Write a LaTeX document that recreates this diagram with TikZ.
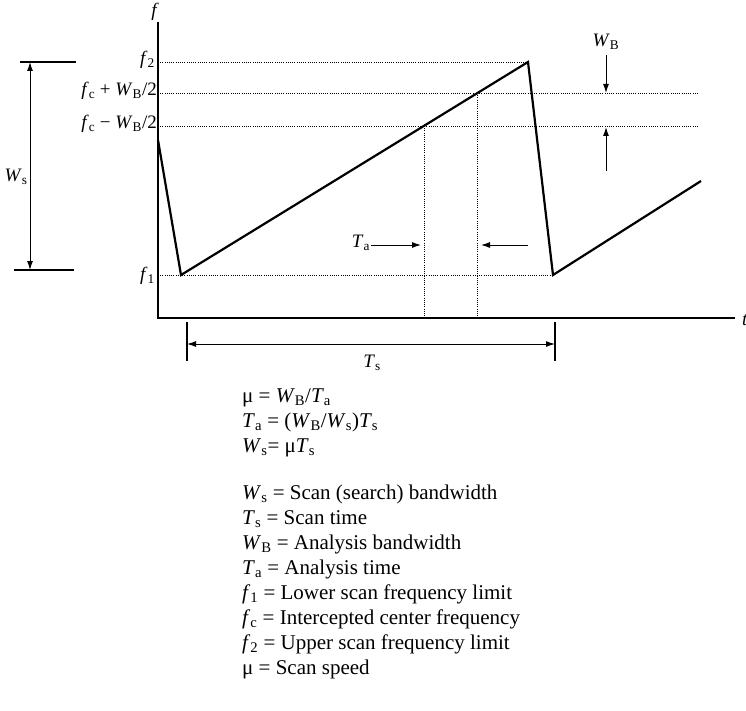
\documentclass[tikz,border=0pt]{standalone}
\usepackage{fontspec}
\setmainfont{Liberation Serif}
\usetikzlibrary{arrows.meta}
\newcommand{\iv}[2]{\textit{#1}\textsubscript{#2}}

\begin{document}
\begin{tikzpicture}[x=1pt, y=-1pt,
  axis/.style={line width=1.3pt},
  saw/.style={line width=2.2pt, line join=miter},
  guide/.style={line width=0.9pt, dash pattern=on 0.9pt off 1.3pt},
  dim/.style={line width=1pt, -{Latex[length=9pt,width=6pt]}},
  bar/.style={line width=1.2pt},
  lbl/.style={font=\fontsize{19}{21}\selectfont, inner sep=1pt},
  legend/.style={font=\fontsize{21}{25}\selectfont, align=left, anchor=north west, inner sep=0pt}]
  \useasboundingbox (0,0) rectangle (746,711);

  % axes
  \coordinate (ftop) at (158,22);
  \coordinate (o) at (158,318);
  \coordinate (tend) at (735,318);
  \draw[axis] (ftop) -- (o) -- (tend);
  \node[lbl] (flab) at (155,12) {\textit{f}};
  \node[lbl] (tlab) at (745,320) {\textit{t}};

  % sawtooth
  \coordinate (s0) at (158,140);
  \coordinate (s1) at (181,275);
  \coordinate (s2) at (528,62);
  \coordinate (s3) at (553,275);
  \coordinate (s4) at (701,181);
  \draw[saw] (s0) -- (s1) -- (s2) -- (s3) -- (s4);

  % frequency levels
  \coordinate (f2a) at (158,62);
  \coordinate (hia) at (158,93);  \coordinate (hib) at (699,93);
  \coordinate (loa) at (158,126); \coordinate (lob) at (699,126);
  \coordinate (f1a) at (158,275);
  \draw[guide] (f2a) -- (s2);
  \draw[guide] (hia) -- (hib);
  \draw[guide] (loa) -- (lob);
  \draw[guide] (f1a) -- (s3);
  \node[lbl, anchor=east] (f2lab) at (156,60) {\iv{f}{2}};
  \node[lbl, anchor=east] (hilab) at (158,91) {\iv{f}{c} + \iv{W}{B}/2};
  \node[lbl, anchor=east] (lolab) at (158,124) {\iv{f}{c} − \iv{W}{B}/2};
  \node[lbl, anchor=east] (f1lab) at (156,276) {\iv{f}{1}};

  % analysis window
  \coordinate (ta1) at (424,126); \coordinate (ta1b) at (424,318);
  \coordinate (ta2) at (477,93);  \coordinate (ta2b) at (477,318);
  \draw[guide] (ta1) -- (ta1b);
  \draw[guide] (ta2) -- (ta2b);
  \node[lbl] (talab) at (361,243) {\iv{T}{a}};
  \coordinate (tal) at (371,245); \coordinate (tale) at (421,245);
  \coordinate (tar) at (528,245); \coordinate (tare) at (481,245);
  \draw[dim] (tal) -- (tale);
  \draw[dim] (tar) -- (tare);

  % analysis bandwidth
  \node[lbl] (wblab) at (606,42) {\iv{W}{B}};
  \coordinate (wb1) at (606,55);  \coordinate (wb1e) at (606,93);
  \coordinate (wb2) at (606,171); \coordinate (wb2e) at (606,127);
  \draw[dim] (wb1) -- (wb1e);
  \draw[dim] (wb2) -- (wb2e);

  % scan bandwidth
  \coordinate (wsa) at (20,62);  \coordinate (wsb) at (76,62);
  \coordinate (wsc) at (14,270); \coordinate (wsd) at (74,270);
  \draw[bar] (wsa) -- (wsb);
  \draw[bar] (wsc) -- (wsd);
  \coordinate (wstop) at (30,62); \coordinate (wsbot) at (30,270);
  \draw[dim, {Latex[length=9pt,width=6pt]}-{Latex[length=9pt,width=6pt]}] (wstop) -- (wsbot);
  \node[lbl] (wslab) at (16,177) {\iv{W}{s}};

  % scan time
  \coordinate (tsa) at (187,322); \coordinate (tsb) at (187,361);
  \coordinate (tsc) at (555,322); \coordinate (tsd) at (555,361);
  \draw[bar] (tsa) -- (tsb);
  \draw[bar] (tsc) -- (tsd);
  \coordinate (tsl) at (187,344); \coordinate (tsr) at (555,344);
  \draw[dim, {Latex[length=9pt,width=6pt]}-{Latex[length=9pt,width=6pt]}] (tsl) -- (tsr);
  \node[lbl] (tslab) at (372,363) {\iv{T}{s}};

  % relations and symbols
  \node[legend] (legend) at (242,388) {%
    μ = \iv{W}{B}/\iv{T}{a}\\
    \iv{T}{a} = (\iv{W}{B}/\iv{W}{s})\iv{T}{s}\\
    \iv{W}{s}= μ\iv{T}{s}\\[22pt]
    \iv{W}{s} = Scan (search) bandwidth\\
    \iv{T}{s} = Scan time\\
    \iv{W}{B} = Analysis bandwidth\\
    \iv{T}{a} = Analysis time\\
    \iv{f}{1} = Lower scan frequency limit\\
    \iv{f}{c} = Intercepted center frequency\\
    \iv{f}{2} = Upper scan frequency limit\\
    μ = Scan speed};
\end{tikzpicture}
\end{document}
